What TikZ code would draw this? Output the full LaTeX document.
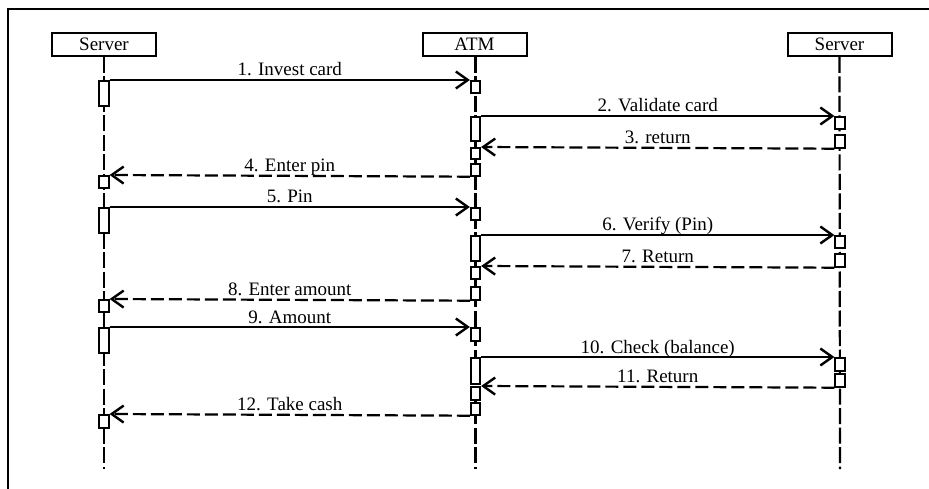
\documentclass[tikz,border=0pt]{standalone}
\usepackage{fontspec}
\setmainfont{Liberation Serif}
\usetikzlibrary{arrows.meta}
\tikzset{
  x=1pt, y=-1pt,
  every node/.style={font=\fontsize{19}{22}\selectfont},
  head/.style={draw, line width=2pt, minimum width=104pt, minimum height=23pt, inner sep=0pt, fill=white},
  life/.style={line width=2.2pt, dash pattern=on 16pt off 3.5pt},
  actbox/.style={draw, line width=1.7pt, fill=white, minimum width=9.5pt, inner sep=0pt, anchor=north},
  sbox/.style={actbox, minimum height=12pt},
  tbox/.style={actbox, minimum height=25pt},
  callmsg/.style={line width=1.9pt, -{Straight Barb[length=12pt,width=17pt,line width=2.4pt]}},
  retmsg/.style={line width=2.2pt, dash pattern=on 13pt off 5pt, -{Straight Barb[length=12pt,width=17pt,line width=2.4pt]}},
  lbl/.style={midway, anchor=base, yshift=4pt, inner sep=0pt},
}
\begin{document}
\begin{tikzpicture}
\useasboundingbox (0,0) rectangle (929,489);
% frame
\draw[line width=2pt] (8,489) -- (8,9) -- (929,9);
% heads
\node[head] (hL) at (104,44.5) {Server};
\node[head] (hA) at (474.5,44.5) {ATM};
\node[head] (hR) at (839.5,44.5) {Server};
\coordinate (eL) at (104,469);
\coordinate (eA) at (475.5,469);
\coordinate (eR) at (840,469);
\draw[life] (hL.south) -- (eL);
\draw[life] (hA.south -| eA) -- (eA);
\draw[life] (hR.south) -- (eR);
% left boxes
\node[tbox] (l1) at (104,80) {};
\node[sbox] (l4) at (104,175) {};
\node[tbox] (l5) at (104,207) {};
\node[sbox] (l8) at (104,299) {};
\node[tbox] (l9) at (104,327) {};
\node[sbox, minimum height=13pt] (l12) at (104,414) {};
% ATM boxes
\node[sbox] (a1) at (475.5,80) {};
\node[tbox, minimum height=24pt] (a2) at (475.5,116) {};
\node[sbox, minimum height=11pt] (a3) at (475.5,147) {};
\node[sbox] (a4) at (475.5,163) {};
\node[sbox] (a5) at (475.5,207) {};
\node[tbox] (a6) at (475.5,235) {};
\node[sbox] (a7) at (475.5,266) {};
\node[sbox, minimum height=13pt] (a8) at (475.5,286) {};
\node[sbox, minimum height=13pt] (a9) at (475.5,327) {};
\node[tbox, minimum height=26pt] (a10) at (475.5,357) {};
\node[sbox, minimum height=13pt] (a11) at (475.5,386) {};
\node[sbox] (a12) at (475.5,402) {};
% right boxes
\node[sbox] (r2) at (840,116) {};
\node[sbox, minimum height=13pt] (r3) at (840,134) {};
\node[sbox] (r6) at (840,235) {};
\node[sbox, minimum height=13pt] (r7) at (840,253) {};
\node[sbox, minimum height=13pt] (r10) at (840,357) {};
\node[sbox, minimum height=13pt] (r11) at (840,373) {};
% messages
\draw[callmsg] (l1.north east) -- node[lbl] {1. Invest card} (a1.north west);
\draw[callmsg] (a2.north east) -- node[lbl] {2. Validate card} (r2.north west);
\draw[retmsg] (r3.south west) -- node[lbl] {3. return} (a3.north east);
\draw[retmsg] (a4.south west) -- node[lbl] {4. Enter pin} (l4.north east);
\draw[callmsg] (l5.north east) -- node[lbl] {5. Pin} (a5.north west);
\draw[callmsg] (a6.north east) -- node[lbl] {6. Verify (Pin)} (r6.north west);
\draw[retmsg] (r7.south west) -- node[lbl] {7. Return} (a7.north east);
\draw[retmsg] (a8.south west) -- node[lbl] {8. Enter amount} (l8.north east);
\draw[callmsg] (l9.north east) -- node[lbl] {9. Amount} (a9.north west);
\draw[callmsg] (a10.north east) -- node[lbl] {10. Check (balance)} (r10.north west);
\draw[retmsg] (r11.south west) -- node[lbl] {11. Return} (a11.north east);
\draw[retmsg] (a12.south west) -- node[lbl] {12. Take cash} (l12.north east);
\end{tikzpicture}
\end{document}
